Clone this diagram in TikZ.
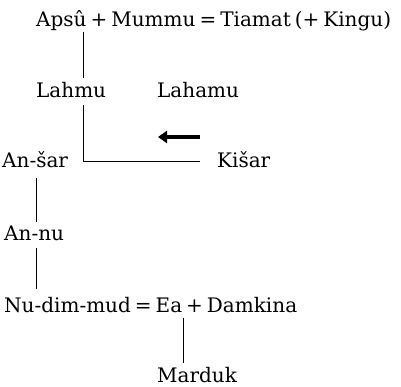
\documentclass[tikz,border=0pt]{standalone}
\usepackage{fontspec}
\setmainfont{DejaVu Serif}
\usetikzlibrary{arrows.meta}
% serif at 20pt with narrow word spaces
\newcommand\deityfont{\fontsize{20}{24}\selectfont\spaceskip=4pt\relax}
\begin{document}
\begin{tikzpicture}[x=1pt,y=-1pt,
  deity/.style={anchor=base west,inner sep=0pt,font=\deityfont},
  link/.style={line width=0.8pt},
  push/.style={line width=3.2pt,-{Triangle[length=9pt,width=12pt]}}]
\useasboundingbox (0,0) rectangle (401,386);
% names of the genealogy
\node[deity] (apsu)   at (36,26)  {Apsû + Mummu = Tiamat (+ Kingu)};
\node[deity] (lahmu)  at (36,97)  {Lahmu};
\node[deity] (lahamu) at (157,97) {Lahamu};
\node[deity] (ansar)  at (2,167)  {An-šar};
\node[deity] (kisar)  at (217,167){Kišar};
\node[deity] (annu)   at (4,240)  {An-nu};
\node[deity] (nudim)  at (4,312)  {Nu-dim-mud = Ea + Damkina};
\node[deity] (marduk) at (157,382){Marduk};
% line ends
\coordinate (a1) at (83,32);
\coordinate (a2) at (83,78);
\coordinate (l1) at (83,105);
\coordinate (l2) at (83,161);
\coordinate (k1) at (200,161);
\coordinate (s1) at (36,178);
\coordinate (s2) at (36,222);
\coordinate (n1) at (36,248);
\coordinate (n2) at (36,289);
\coordinate (e1) at (183,318);
\coordinate (e2) at (183,363);
\coordinate (p1) at (200,137);
\coordinate (p2) at (158,137);
% connectors
\draw[link] (a1) -- (a2);
\draw[link] (l1) -- (l2) -- (k1);
\draw[link] (s1) -- (s2);
\draw[link] (n1) -- (n2);
\draw[link] (e1) -- (e2);
\draw[push] (p1) -- (p2);
\end{tikzpicture}
\end{document}
